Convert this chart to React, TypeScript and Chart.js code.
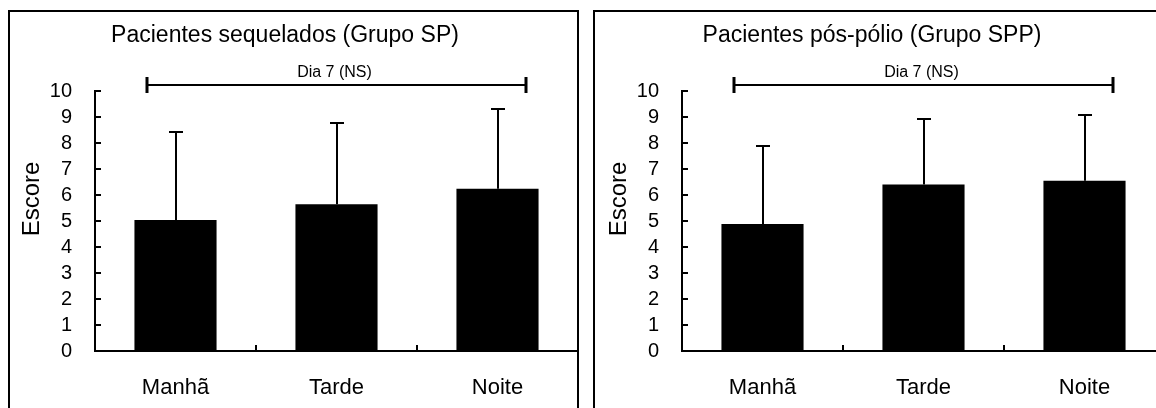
import React, { useEffect, useRef } from "react";
import { Chart, registerables } from "chart.js";

Chart.register(...registerables);

// ---- data ----
const categories = ["Manhã", "Tarde", "Noite"];
const spMeans = [5.04, 5.64, 6.24];
const spSD = [3.37, 3.14, 3.08];
const sppMeans = [4.88, 6.4, 6.55];
const sppSD = [3.0, 2.53, 2.54];
const yTickValues = [0, 1, 2, 3, 4, 5, 6, 7, 8, 9, 10];
const spTitle = "Pacientes sequelados (Grupo SP)";
const sppTitle = "Pacientes pós-pólio (Grupo SPP)";
const bracketLabel = "Dia 7 (NS)";
const bracketLevel = 10.23;
const yAxisTitle = "Escore";

const FONT = '"Liberation Sans", Arial, sans-serif';

function makeOverlay(title: string, means: number[], sd: number[]) {
  return {
    id: "overlay",
    afterDatasetsDraw(chart: any) {
      const { ctx, chartArea } = chart;
      const xs = chart.scales.x;
      const ys = chart.scales.y;
      const meta = chart.getDatasetMeta(0);
      ctx.save();
      ctx.strokeStyle = "#000";
      ctx.fillStyle = "#000";
      ctx.lineWidth = 2;

      // error bars (upper only)
      meta.data.forEach((el: any, i: number) => {
        const cx = Math.round(el.x);
        const top = Math.round(ys.getPixelForValue(means[i] + sd[i]));
        ctx.beginPath();
        ctx.moveTo(cx, el.y);
        ctx.lineTo(cx, top);
        ctx.moveTo(cx - 7, top);
        ctx.lineTo(cx + 7, top);
        ctx.stroke();
      });

      // inner ticks on y axis
      yTickValues.forEach((v) => {
        const py = Math.round(ys.getPixelForValue(v));
        ctx.beginPath();
        ctx.moveTo(chartArea.left, py);
        ctx.lineTo(chartArea.left + 6, py);
        ctx.stroke();
      });

      // inner ticks on x axis at category boundaries
      const n = categories.length;
      const step = xs.getPixelForValue(1) - xs.getPixelForValue(0);
      for (let i = 0; i < n; i++) {
        const bx = Math.round(xs.getPixelForValue(i) + step / 2);
        ctx.beginPath();
        ctx.moveTo(bx, chartArea.bottom);
        ctx.lineTo(bx, chartArea.bottom - 6);
        ctx.stroke();
      }

      // significance bracket
      const by = Math.round(ys.getPixelForValue(bracketLevel));
      const bx1 = Math.round(xs.getPixelForValue(0) - step * 0.18);
      const bx2 = Math.round(xs.getPixelForValue(n - 1) + step * 0.175);
      ctx.lineWidth = 2;
      ctx.beginPath();
      ctx.moveTo(bx1, by);
      ctx.lineTo(bx2, by);
      ctx.stroke();
      ctx.lineWidth = 3;
      ctx.beginPath();
      ctx.moveTo(bx1, by - 8);
      ctx.lineTo(bx1, by + 8);
      ctx.moveTo(bx2, by - 8);
      ctx.lineTo(bx2, by + 8);
      ctx.stroke();
      ctx.font = `16px ${FONT}`;
      ctx.textAlign = "center";
      ctx.textBaseline = "alphabetic";
      ctx.fillText(bracketLabel, (bx1 + bx2) / 2 - 2, by - 8);

      // panel title
      ctx.font = `23px ${FONT}`;
      ctx.fillText(title, 285, 42);

      // y axis title
      ctx.save();
      ctx.translate(32, 199);
      ctx.rotate(-Math.PI / 2);
      ctx.font = `24px ${FONT}`;
      ctx.textBaseline = "middle";
      ctx.fillText(yAxisTitle, 0, 0);
      ctx.restore();

      ctx.restore();
    },
  };
}

function Panel({ left, title, means, sd }: { left: number; title: string; means: number[]; sd: number[] }) {
  const ref = useRef<HTMLCanvasElement | null>(null);
  useEffect(() => {
    if (!ref.current) return;
    const chart = new Chart(ref.current, {
      type: "bar",
      data: {
        labels: categories,
        datasets: [
          {
            data: means,
            backgroundColor: "#000",
            borderWidth: 0,
            barPercentage: 0.51,
            categoryPercentage: 1,
          },
        ],
      },
      options: {
        responsive: false,
        animation: false,
        layout: { padding: { top: 91, right: 22, left: 0, bottom: 0 } },
        plugins: {
          legend: { display: false },
          title: { display: false },
          tooltip: { enabled: false },
        },
        scales: {
          x: {
            type: "category",
            grid: { display: false, drawTicks: false },
            border: { display: true, color: "#000", width: 2 },
            ticks: { color: "#000", font: { family: FONT, size: 22 }, padding: 24, maxRotation: 0, autoSkip: false },
            afterFit: (s: any) => {
              s.height = 57;
            },
          },
          y: {
            min: 0,
            max: 10,
            grid: { display: false, drawTicks: false },
            border: { display: true, color: "#000", width: 2 },
            ticks: {
              stepSize: 1,
              autoSkip: false,
              color: "#000",
              font: { family: FONT, size: 20 },
              padding: 23,
            },
            afterFit: (s: any) => {
              s.width = 95;
            },
          },
        },
      },
      plugins: [makeOverlay(title, means, sd)],
    } as any);
    return () => chart.destroy();
  }, []);
  return (
    <canvas
      ref={ref}
      width={600}
      height={408}
      style={{ position: "absolute", left, top: 0, width: 600, height: 408, display: "block" }}
    />
  );
}

export default function App() {
  return (
    <div
      style={{
        position: "absolute",
        left: 0,
        top: 0,
        width: 1156,
        height: 408,
        overflow: "hidden",
        background: "#fff",
      }}
    >
      <div
        style={{
          position: "absolute",
          left: 8,
          top: 10,
          width: 571,
          height: 500,
          border: "2px solid #000",
          boxSizing: "border-box",
        }}
      />
      <div
        style={{
          position: "absolute",
          left: 593,
          top: 10,
          width: 620,
          height: 500,
          border: "2px solid #000",
          boxSizing: "border-box",
        }}
      />
      <Panel left={0} title={spTitle} means={spMeans} sd={spSD} />
      <Panel left={587} title={sppTitle} means={sppMeans} sd={sppSD} />
    </div>
  );
}
